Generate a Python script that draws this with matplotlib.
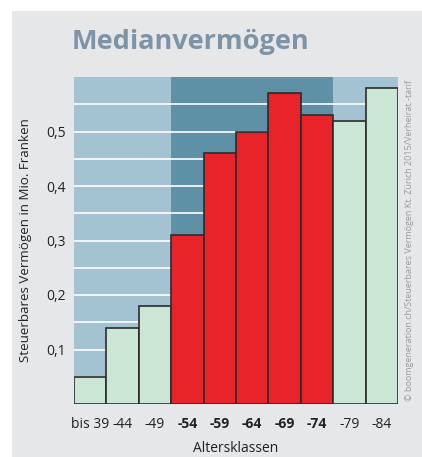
import matplotlib.pyplot as plt
import matplotlib.patches as mpatches
import numpy as np

# data
klassen = ["bis 39", "-44", "-49", "-54", "-59", "-64", "-69", "-74", "-79", "-84"]
vermoegen = [0.05, 0.14, 0.18, 0.31, 0.46, 0.50, 0.57, 0.53, 0.52, 0.58]
hervorgehoben = [False, False, False, True, True, True, True, True, False, False]
y_ticks = [0.1, 0.2, 0.3, 0.4, 0.5]
y_tick_labels = ["0,1", "0,2", "0,3", "0,4", "0,5"]

plt.rcParams['font.family'] = ['Open Sans', 'DejaVu Sans']

fig = plt.figure(figsize=(4.22, 4.57), dpi=100)
fig.patch.set_facecolor("white")

# gray panel behind everything
panel = mpatches.Rectangle((12 / 422, 0), 1 - 12 / 422, 1 - 11 / 457,
                           transform=fig.transFigure, facecolor="#e6e7e9",
                           edgecolor="none", zorder=-10)
fig.patches.append(panel)

ax = fig.add_axes([74 / 422, 1 - 404 / 457, 324 / 422, 327 / 457])
ax.set_zorder(1)
ax.set_facecolor("#a3c2d2")

x = np.arange(len(klassen))
ax.set_xlim(-0.5, len(klassen) - 0.5)
ax.set_ylim(0, 0.6)

# darker background for highlighted classes
idx = [i for i, h in enumerate(hervorgehoben) if h]
ax.axvspan(idx[0] - 0.5, idx[-1] + 0.5, color="#5e90a6", zorder=0, lw=0)

for g in np.arange(0.05, 0.6, 0.05):
    ax.axhline(g, color="white", lw=1.2, zorder=1)

colors = ["#e8232a" if h else "#cbe6d5" for h in hervorgehoben]
ax.bar(x, vermoegen, width=1.0, color=colors, edgecolor="#2b2b2b",
       linewidth=1.2, zorder=2)

for s in ax.spines.values():
    s.set_visible(False)

ax.set_yticks(y_ticks)
ax.set_yticklabels(y_tick_labels, fontsize=10, color="#222222")
ax.set_xticks(x)
ax.set_xticklabels(klassen, fontsize=10, color="#222222")
for lbl, h in zip(ax.get_xticklabels(), hervorgehoben):
    if h:
        lbl.set_fontweight("bold")
ax.tick_params(length=0, pad=9)
ax.tick_params(axis="y", pad=6)

ax.set_xlabel("Altersklassen", fontsize=10, color="#222222", labelpad=7)
ax.set_ylabel("Steuerbares Vermögen in Mio. Franken", fontsize=9.6,
              color="#222222", labelpad=10)

fig.text(72 / 422, 1 - 42 / 457, "Medianvermögen", fontsize=19.5,
         fontweight="bold", color="#7f93a6", va="center", ha="left")

fig.text(409 / 422, 1 - 240 / 457,
         "© boomgeneration.ch/Steuerbares Vermögen Kt. Zürich 2015/Verheirat.-tarif",
         rotation=90, fontsize=6.5, color="#9a9a9a", va="center", ha="center")

fig.savefig("out.png", dpi=100)
